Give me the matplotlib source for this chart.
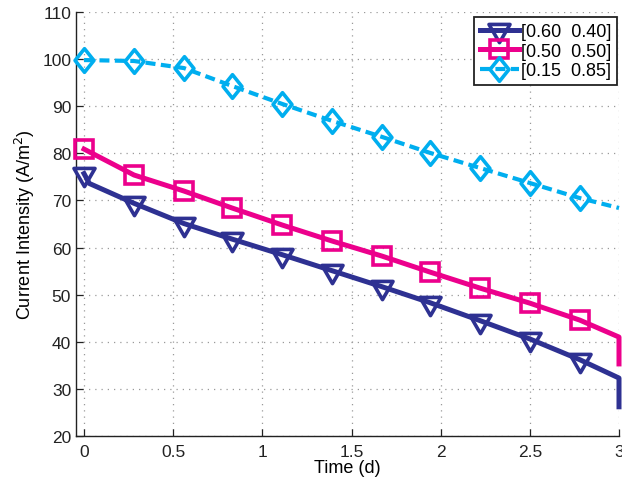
import matplotlib
matplotlib.use("Agg")
import matplotlib.pyplot as plt
from matplotlib.path import Path

plt.rcParams['font.family'] = ['Liberation Sans', 'DejaVu Sans']

# Sampling times (days) at the marker positions, plus the end of the run
t_marks = [0.0, 0.28, 0.56, 0.83, 1.11, 1.39, 1.67, 1.94, 2.22, 2.50, 2.78]
t_end = 3.0

# Current intensity (A/m^2) for each electrode ratio
i_060_040 = [75.7, 69.4, 65.1, 61.8, 58.5, 55.1, 51.7, 48.3, 44.5, 40.6, 36.2]
i_050_050 = [80.9, 75.4, 72.0, 68.4, 64.8, 61.4, 58.2, 54.8, 51.4, 48.2, 44.6]
i_015_085 = [99.8, 99.6, 98.1, 94.3, 90.5, 86.9, 83.5, 80.1, 76.9, 73.7, 70.5]

# Early drop right after start for the first series
t_early, i_early = 0.03, 73.6
# Final readings at the end of the run (last sample, then cut-off value)
end_060_040 = [32.3, 26.2]
end_050_050 = [41.0, 35.3]
end_015_085 = [68.4]

labels = ['[0.60  0.40]', '[0.50  0.50]', '[0.15  0.85]']
colors = ['#2e3192', '#ec008c', '#00aeef']

# Down-pointing triangle centred on its centroid
tri_down = Path([(-1.0, 0.577), (1.0, 0.577), (0.0, -1.155), (-1.0, 0.577)],
                [Path.MOVETO, Path.LINETO, Path.LINETO, Path.CLOSEPOLY])
# Diamond that is a little taller than wide
tall_diamond = Path([(0.0, 1.0), (0.8, 0.0), (0.0, -1.0), (-0.8, 0.0), (0.0, 1.0)],
                    [Path.MOVETO, Path.LINETO, Path.LINETO, Path.LINETO,
                     Path.CLOSEPOLY])

fig = plt.figure(figsize=(6.22, 4.85), dpi=100)
ax = fig.add_axes([76 / 622, 48 / 485, (619 - 76) / 622, (437 - 13) / 485])

# Series 1
t1 = [t_marks[0], t_early] + t_marks[1:] + [t_end] * len(end_060_040)
y1 = [i_060_040[0], i_early] + i_060_040[1:] + end_060_040
mk1 = [0] + list(range(2, len(t_marks) + 1))
ax.plot(t1, y1, color=colors[0], lw=3.6, marker=tri_down, ms=17.5,
        mfc='none', mew=2.6, markevery=mk1, clip_on=False,
        solid_joinstyle='round', label=labels[0], zorder=3)

# Series 2
t2 = t_marks + [t_end] * len(end_050_050)
y2 = i_050_050 + end_050_050
ax.plot(t2, y2, color=colors[1], lw=3.6, marker='s', ms=12.5,
        mfc='none', mew=2.6, markevery=list(range(len(t_marks))),
        clip_on=False, label=labels[1], zorder=3)

# Series 3
t3 = t_marks + [t_end] * len(end_015_085)
y3 = i_015_085 + end_015_085
ax.plot(t3, y3, color=colors[2], lw=3.0, ls=(0, (2.4, 1.3)),
        marker=tall_diamond, ms=17, mfc='none', mew=2.6,
        markevery=list(range(len(t_marks))),
        clip_on=False, label=labels[2], zorder=3)

ax.set_xlim(-0.045, 3.0)
ax.set_ylim(20, 110)
ax.set_xticks([0, 0.5, 1, 1.5, 2, 2.5, 3])
ax.set_xticklabels(['0', '0.5', '1', '1.5', '2', '2.5', '3'])
ax.set_yticks(range(20, 111, 10))

ax.grid(True, color='#9a9a9a', ls=(0, (1, 4)), lw=0.9)
ax.set_axisbelow(True)
for side in ('top', 'right'):
    ax.spines[side].set_visible(False)
for side in ('left', 'bottom'):
    ax.spines[side].set_linewidth(1.0)
    ax.spines[side].set_color('#222222')
ax.tick_params(direction='in', length=5, width=0.9, labelsize=12.5,
               colors='#222222', pad=3.5)
ax.tick_params(axis='x', pad=5.5)

ax.set_xlabel('Time (d)', fontsize=13, labelpad=0)
ax.set_ylabel('Current Intensity (A/m$^2$)', fontsize=13, labelpad=4)

leg = ax.legend(loc='upper right', bbox_to_anchor=(0.997, 0.988),
                fontsize=13, frameon=True, fancybox=False,
                edgecolor='#222222', framealpha=1, handlelength=2.15,
                handletextpad=0.15, borderpad=0.32, labelspacing=0.15,
                borderaxespad=0.0)
leg.get_frame().set_linewidth(1.3)

fig.savefig('out.png', dpi=100)
